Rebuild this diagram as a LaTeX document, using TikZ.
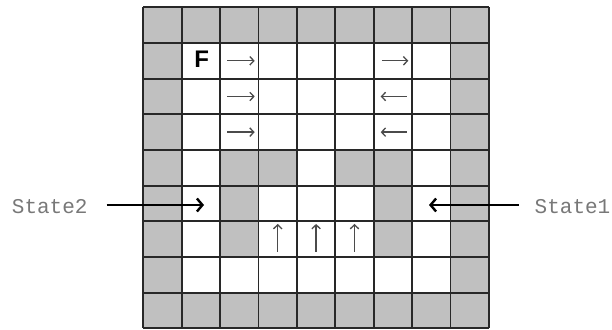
\documentclass[tikz,border=0pt]{standalone}
\usepackage{fontspec}
\setmainfont{Liberation Sans}
\newfontfamily\monofont{Liberation Mono}
\usetikzlibrary{arrows.meta}
\definecolor{cellgray}{RGB}{192,192,192}
\definecolor{gridcol}{RGB}{40,40,40}
\definecolor{arrcol}{RGB}{75,75,75}
\definecolor{lblcol}{RGB}{120,120,120}
\tikzset{
  gridline/.style={draw=gridcol, line width=1.8pt},
  cellarrow/.style={draw=arrcol, line width=1.3pt, -{Straight Barb[length=4pt,width=8.5pt]}},
  statearrow/.style={draw=black, line width=1.6pt, -{Straight Barb[length=5.5pt,width=13pt,line width=2.4pt]}},
  statelbl/.style={inner sep=0pt, text=lblcol, font=\monofont\fontsize{21}{21}\selectfont},
  flabel/.style={inner sep=0pt, font=\bfseries\fontsize{24}{24}\selectfont}
}
\begin{document}
\begin{tikzpicture}[x=1pt,y=-1pt]
\useasboundingbox (0,0) rectangle (612,329);
\fill[white] (0,0) rectangle (612,329);
\begin{scope}[shift={(143.3,7.3)}, x=38.4pt, y=-35.67pt]
  \fill[cellgray] (0,0) rectangle (9,9);
  \fill[white] (1,1) rectangle (8,4);
  \fill[white] (1,4) rectangle (2,8);
  \fill[white] (7,4) rectangle (8,8);
  \fill[white] (1,7) rectangle (8,8);
  \fill[white] (4,4) rectangle (5,5);
  \fill[white] (3,5) rectangle (6,7);
  \foreach \i in {0,...,9} {
    \draw[gridline] (\i,0) -- (\i,9);
    \draw[gridline] (0,\i) -- (9,\i);
  }
  \foreach \c in {0,...,8} {
    \foreach \r in {0,...,8} {
      \coordinate (c-\c-\r) at (\c+0.5,\r+0.5);
    }
  }
\end{scope}
% F label
\node[flabel, anchor=base] (F) at (201.7,67) {F};
% right arrows in column 2
\foreach \r in {1,2,3} {
  \draw[cellarrow] ([xshift=-12.3pt]c-2-\r) -- ([xshift=15.4pt]c-2-\r);
}
% column 6 arrows
\draw[cellarrow] ([xshift=-11pt]c-6-1) -- ([xshift=15.4pt]c-6-1);
\draw[cellarrow] ([xshift=14pt]c-6-2) -- ([xshift=-12.2pt]c-6-2);
\draw[cellarrow] ([xshift=14pt]c-6-3) -- ([xshift=-12.2pt]c-6-3);
% up arrows in row 6
\foreach \c in {3,4,5} {
  \draw[cellarrow] ([yshift=-12.5pt]c-\c-6) -- ([yshift=15.2pt]c-\c-6);
}
% state labels
\node[statelbl, anchor=west] (s2) at (11.7,206.5) {State2};
\node[statelbl, anchor=west] (s1) at (534.5,206.5) {State1};
\coordinate (s2t) at (204,205);
\coordinate (s1t) at (429,205);
\draw[statearrow] ([xshift=19pt]s2.east |- s2t) -- (s2t);
\draw[statearrow] ([xshift=-16pt]s1.west |- s1t) -- (s1t);
\end{tikzpicture}
\end{document}
